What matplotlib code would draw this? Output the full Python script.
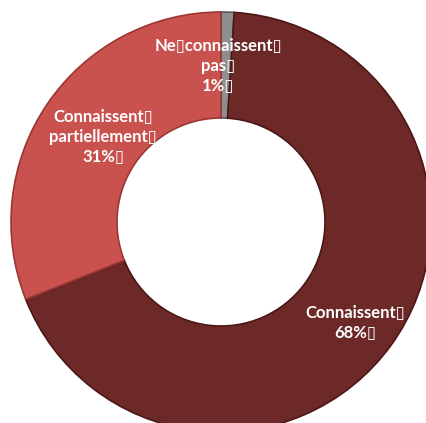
import matplotlib.pyplot as plt

labels = ["Ne\u25afconnaissent\u25af\npas\u25af\n1%\u25af",
          "Connaissent\u25af\n68%\u25af",
          "Connaissent\u25af\npartiellement\u25af\n31%\u25af"]
values = [1, 68, 31]
colors = ["#8e8e8e", "#6c2927", "#c9524f"]
edges = ["#5a5a5a", "#4a1716", "#9c3633"]

W, H = 427, 423
cx, cy = 221, H - 222
R = 210
hole = 104

fig = plt.figure(figsize=(W / 100, H / 100), dpi=100)
ax = fig.add_axes([0, 0, 1, 1])

wedges, texts = ax.pie(values, labels=labels, colors=colors,
                       startangle=90, counterclock=False,
                       center=(cx, cy), radius=R,
                       labeldistance=(R + hole) / 2 / R,
                       wedgeprops=dict(width=R - hole, linewidth=1.2),
                       textprops=dict(color="white", fontsize=12,
                                      fontweight="bold",
                                      family=["Lato", "DejaVu Sans"]))
for w, ec in zip(wedges, edges):
    w.set_edgecolor(ec)
for t in texts:
    t.set_ha("center")
    t.set_va("center")
    t.set_multialignment("center")
    t.set_linespacing(1.3)

# nudge labels to sit where the slices leave room for them
texts[0].set_position((cx - 3, H - 66))
texts[1].set_position((cx + 134, H - 323))
texts[2].set_position((cx - 118, H - 137))

ax.set_xlim(0, W)
ax.set_ylim(0, H)
ax.set_aspect("equal")
ax.axis("off")

fig.savefig("out.png", dpi=100)
